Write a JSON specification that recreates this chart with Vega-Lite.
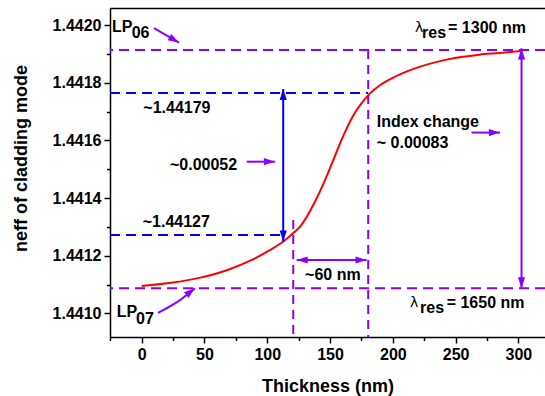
{
  "$schema": "https://vega.github.io/schema/vega-lite/v6.json",
  "width": 435,
  "height": 329,
  "autosize": {"type": "none"},
  "padding": {"left": 110, "top": 8, "right": 0, "bottom": 59},
  "background": "white",
  "config": {
    "view": {"stroke": null},
    "font": "Liberation Sans",
    "axis": {
      "labelFont": "Liberation Sans", "labelFontWeight": "bold", "labelFontSize": 16, "labelColor": "black",
      "titleFont": "Liberation Sans", "titleFontWeight": "bold", "titleFontSize": 18, "titleColor": "black",
      "domainColor": "black", "domainWidth": 1.5, "tickColor": "black", "tickWidth": 1.5, "tickSize": 6,
      "grid": false, "labelPadding": 3, "labelFlush": false
    }
  },
  "datasets": {
    "curve": [
      {"t": 0, "n": 1.441095}, {"t": 25, "n": 1.441107}, {"t": 46, "n": 1.441123}, {"t": 70, "n": 1.441153},
      {"t": 86, "n": 1.441182}, {"t": 102, "n": 1.441219}, {"t": 113, "n": 1.44125}, {"t": 119, "n": 1.441272},
      {"t": 126, "n": 1.4413}, {"t": 138, "n": 1.441387}, {"t": 146, "n": 1.441462}, {"t": 153, "n": 1.441536},
      {"t": 161, "n": 1.44162}, {"t": 169, "n": 1.44169}, {"t": 175, "n": 1.441728}, {"t": 180.5, "n": 1.441757},
      {"t": 190, "n": 1.441792}, {"t": 200, "n": 1.441817}, {"t": 216, "n": 1.441847}, {"t": 243, "n": 1.44188},
      {"t": 269, "n": 1.441897}, {"t": 285, "n": 1.441903}, {"t": 302, "n": 1.44191}
    ],
    "purpleH": [{"n": 1.441913}, {"n": 1.441087}],
    "purpleV": [
      {"t": 120.7, "n": 1.441324, "n2": 1.440918},
      {"t": 180.4, "n": 1.441913, "n2": 1.440918}
    ],
    "blueH": [
      {"t": -25.25, "t2": 180.4, "n": 1.441764},
      {"t": -25.25, "t2": 112.7, "n": 1.441272}
    ],
    "purpleArrows": [
      {"t": 9.8, "t2": 29.7, "n": 1.441989, "n2": 1.441939},
      {"t": 83.6, "t2": 106.1, "n": 1.441526, "n2": 1.441526},
      {"t": 262.7, "t2": 285.3, "n": 1.441627, "n2": 1.441627},
      {"t": 302.5, "t2": 302.5, "n": 1.441087, "n2": 1.441919},
      {"t": 123.4, "t2": 179.1, "n": 1.441185, "n2": 1.441185}
    ],
    "blueArrows": [
      {"t": 112.7, "t2": 112.7, "n": 1.441249, "n2": 1.441778}
    ],
    "lp07Arrow": [
      {"t": 13, "n": 1.441002}, {"t": 30.5, "n": 1.441046}, {"t": 42.4, "n": 1.441087}
    ],
    "purpleHeads": [
      {"t": 29.7, "n": 1.441939, "dir": "dr"},
      {"t": 106.1, "n": 1.441526, "dir": "right"},
      {"t": 285.3, "n": 1.441627, "dir": "right"},
      {"t": 302.5, "n": 1.441919, "dir": "up"},
      {"t": 302.5, "n": 1.441087, "dir": "down"},
      {"t": 123.4, "n": 1.441185, "dir": "left"},
      {"t": 179.1, "n": 1.441185, "dir": "right"},
      {"t": 42.4, "n": 1.441087, "dir": "ur"}
    ],
    "blueHeads": [
      {"t": 112.7, "n": 1.441778, "dir": "up"},
      {"t": 112.7, "n": 1.441249, "dir": "down"}
    ],
    "labels": [
      {"t": 1.3, "n": 1.441711, "text": "~1.44179"},
      {"t": 0.8, "n": 1.441318, "text": "~1.44127"},
      {"t": 22.5, "n": 1.441514, "text": "~0.00052"},
      {"t": 187.2, "n": 1.441664, "text": "Index change"},
      {"t": 187.2, "n": 1.441592, "text": "~ 0.00083"},
      {"t": 130.1, "n": 1.441133, "text": "~60 nm"},
      {"t": -23.7, "n": 1.441993, "text": "LP"},
      {"t": -8.0, "n": 1.441972, "text": "06"},
      {"t": -19.9, "n": 1.441003, "text": "LP"},
      {"t": -4.5, "n": 1.440981, "text": "07"},
      {"t": 223.3, "n": 1.441972, "text": "res"},
      {"t": 244.0, "n": 1.44199, "text": "= 1300 nm"},
      {"t": 221.7, "n": 1.441018, "text": "res"},
      {"t": 242.9, "n": 1.441035, "text": "= 1650 nm"}
    ],
    "lambda": [
      {"t": 217.7, "n": 1.44199, "text": "λ"},
      {"t": 213.7, "n": 1.441035, "text": "λ"}
    ]
  },
  "resolve": {"axis": {"x": "independent", "y": "independent"}},
  "layer": [
    {
      "data": {"name": "curve"},
      "mark": {"type": "line", "color": "#ff0000", "strokeWidth": 2, "interpolate": "monotone"},
      "encoding": {
        "x": {"field": "t", "type": "quantitative", "scale": {"domain": [-25.25, 321.2], "nice": false, "zero": false},
          "axis": {"orient": "bottom", "values": [0, 50, 100, 150, 200, 250, 300], "title": "Thickness (nm)", "titlePadding": 15}},
        "y": {"field": "n", "type": "quantitative", "scale": {"domain": [1.440918, 1.442059], "nice": false, "zero": false},
          "axis": {"orient": "left", "values": [1.441, 1.4412, 1.4414, 1.4416, 1.4418, 1.442], "format": ".4f", "title": "neff of cladding mode", "titlePadding": 22, "titleY": 150}}
      }
    },
    {
      "data": {"name": "purpleH"},
      "mark": {"type": "rule", "color": "#8a00ff", "strokeWidth": 2, "strokeDash": [10, 6]},
      "encoding": {
        "y": {"field": "n", "type": "quantitative", "scale": {"domain": [1.440918, 1.442059], "nice": false, "zero": false}, "axis": null}
      }
    },
    {
      "data": {"name": "purpleV"},
      "mark": {"type": "rule", "color": "#8a00ff", "strokeWidth": 2, "strokeDash": [9, 6]},
      "encoding": {
        "x": {"field": "t", "type": "quantitative", "scale": {"domain": [-25.25, 321.2], "nice": false, "zero": false},
          "axis": {"orient": "bottom", "values": [-25, 25, 75, 125, 175, 225, 275], "labels": false, "tickSize": 3.5, "title": null, "domain": false}},
        "y": {"field": "n", "type": "quantitative", "scale": {"domain": [1.440918, 1.442059], "nice": false, "zero": false},
          "axis": {"orient": "left", "values": [1.4411, 1.4413, 1.4415, 1.4417, 1.4419], "labels": false, "tickSize": 3.5, "title": null, "domain": false}},
        "y2": {"field": "n2"}
      }
    },
    {
      "data": {"name": "blueH"},
      "mark": {"type": "rule", "color": "#0000ff", "strokeWidth": 2, "strokeDash": [10, 6]},
      "encoding": {
        "x": {"field": "t", "type": "quantitative", "scale": {"domain": [-25.25, 321.2], "nice": false, "zero": false},
          "axis": {"orient": "top", "labels": false, "ticks": false, "title": null, "domain": true}},
        "x2": {"field": "t2"},
        "y": {"field": "n", "type": "quantitative", "scale": {"domain": [1.440918, 1.442059], "nice": false, "zero": false}, "axis": null}
      }
    },
    {
      "data": {"name": "purpleArrows"},
      "mark": {"type": "rule", "color": "#8a00ff", "strokeWidth": 2},
      "encoding": {
        "x": {"field": "t", "type": "quantitative", "scale": {"domain": [-25.25, 321.2], "nice": false, "zero": false}, "axis": null},
        "x2": {"field": "t2"},
        "y": {"field": "n", "type": "quantitative", "scale": {"domain": [1.440918, 1.442059], "nice": false, "zero": false}, "axis": null},
        "y2": {"field": "n2"}
      }
    },
    {
      "data": {"name": "blueArrows"},
      "mark": {"type": "rule", "color": "#0000ff", "strokeWidth": 2},
      "encoding": {
        "x": {"field": "t", "type": "quantitative", "scale": {"domain": [-25.25, 321.2], "nice": false, "zero": false}, "axis": null},
        "x2": {"field": "t2"},
        "y": {"field": "n", "type": "quantitative", "scale": {"domain": [1.440918, 1.442059], "nice": false, "zero": false}, "axis": null},
        "y2": {"field": "n2"}
      }
    },
    {
      "data": {"name": "lp07Arrow"},
      "mark": {"type": "line", "color": "#8a00ff", "strokeWidth": 2, "interpolate": "monotone"},
      "encoding": {
        "x": {"field": "t", "type": "quantitative", "scale": {"domain": [-25.25, 321.2], "nice": false, "zero": false}, "axis": null},
        "y": {"field": "n", "type": "quantitative", "scale": {"domain": [1.440918, 1.442059], "nice": false, "zero": false}, "axis": null}
      }
    },
    {
      "data": {"name": "purpleHeads"},
      "mark": {"type": "point", "shape": "M0,0L0.55,1.7L-0.55,1.7Z", "filled": true, "color": "#8a00ff", "opacity": 1, "size": 169, "strokeWidth": 0},
      "encoding": {
        "x": {"field": "t", "type": "quantitative", "scale": {"domain": [-25.25, 321.2], "nice": false, "zero": false}, "axis": null},
        "y": {"field": "n", "type": "quantitative", "scale": {"domain": [1.440918, 1.442059], "nice": false, "zero": false}, "axis": null},
        "angle": {"field": "dir", "type": "nominal", "scale": {"type": "ordinal", "domain": ["up", "ur", "right", "dr", "down", "left"], "range": [0, 52, 90, 120, 180, 270]}, "legend": null}
      }
    },
    {
      "data": {"name": "blueHeads"},
      "mark": {"type": "point", "shape": "M0,0L0.55,1.7L-0.55,1.7Z", "filled": true, "color": "#0000ff", "opacity": 1, "size": 169, "strokeWidth": 0},
      "encoding": {
        "x": {"field": "t", "type": "quantitative", "scale": {"domain": [-25.25, 321.2], "nice": false, "zero": false}, "axis": null},
        "y": {"field": "n", "type": "quantitative", "scale": {"domain": [1.440918, 1.442059], "nice": false, "zero": false}, "axis": null},
        "angle": {"field": "dir", "type": "nominal", "scale": {"type": "ordinal", "domain": ["up", "ur", "right", "dr", "down", "left"], "range": [0, 52, 90, 120, 180, 270]}, "legend": null}
      }
    },
    {
      "data": {"name": "labels"},
      "mark": {"type": "text", "align": "left", "baseline": "middle", "font": "Liberation Sans", "fontWeight": "bold", "fontSize": 16, "color": "black"},
      "encoding": {
        "x": {"field": "t", "type": "quantitative", "scale": {"domain": [-25.25, 321.2], "nice": false, "zero": false}, "axis": null},
        "y": {"field": "n", "type": "quantitative", "scale": {"domain": [1.440918, 1.442059], "nice": false, "zero": false}, "axis": null},
        "text": {"field": "text"}
      }
    },
    {
      "data": {"name": "lambda"},
      "mark": {"type": "text", "align": "left", "baseline": "middle", "font": "DejaVu Sans", "fontSize": 14, "color": "black"},
      "encoding": {
        "x": {"field": "t", "type": "quantitative", "scale": {"domain": [-25.25, 321.2], "nice": false, "zero": false}, "axis": null},
        "y": {"field": "n", "type": "quantitative", "scale": {"domain": [1.440918, 1.442059], "nice": false, "zero": false}, "axis": null},
        "text": {"field": "text"}
      }
    }
  ]
}
